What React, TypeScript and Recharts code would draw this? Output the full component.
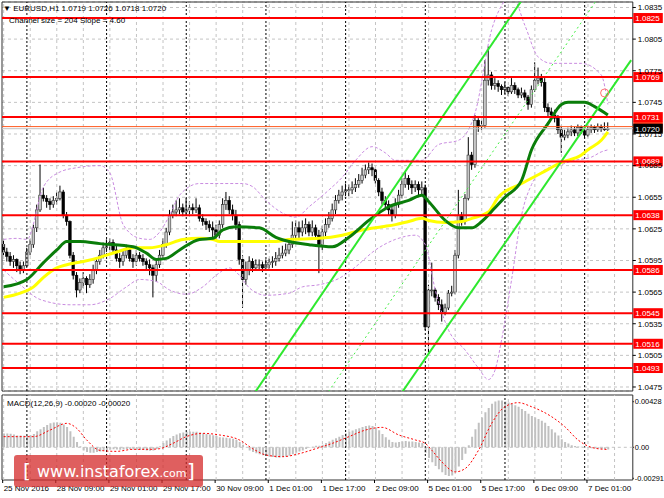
import React from 'react';
import {
  ComposedChart, Bar, Line, XAxis, YAxis, CartesianGrid,
  ReferenceLine, ReferenceArea, ReferenceDot,
} from 'recharts';

const FONT = '"Liberation Sans", Arial, Helvetica, sans-serif';
const SLOTS = 190;

// ---- time axis ----
const timeTickBars = [0, 16, 32, 48, 64, 80, 96, 112, 128, 144, 160, 176];
const timeTickLabels = ['25 Nov 2016', '28 Nov 09:00', '29 Nov 01:00', '29 Nov 17:00', '30 Nov 09:00', '1 Dec 01:00', '1 Dec 17:00', '2 Dec 09:00', '5 Dec 01:00', '5 Dec 17:00', '6 Dec 09:00', '7 Dec 01:00'];
const daySeparatorBars = [7, 31, 55, 79, 103, 127, 151, 175];
const gridBars = [0, 8, 16, 24, 32, 40, 48, 56, 64, 72, 80, 88, 96, 104, 112, 120, 128, 136, 144, 152, 160, 168, 176, 184];

// ---- EURUSD H1 candles (prices in 1/10000) ----
const firstOpen = 10610;
const closes = [
  10603, 10599, 10594, 10596, 10590, 10586, 10590, 10603, 10610, 10626,
  10643, 10657, 10654, 10651, 10648, 10652, 10654, 10660, 10638, 10632,
  10600, 10581, 10567, 10574, 10578, 10572, 10577, 10586, 10594, 10600,
  10607, 10610, 10612, 10605, 10597, 10594, 10600, 10605, 10597, 10594,
  10600, 10597, 10594, 10591, 10588, 10581, 10591, 10600, 10610, 10622,
  10638, 10641, 10643, 10645, 10641, 10643, 10645, 10643, 10645, 10635,
  10632, 10629, 10626, 10624, 10619, 10629, 10648, 10652, 10643, 10638,
  10629, 10596, 10577, 10586, 10594, 10588, 10591, 10591, 10588, 10591,
  10593, 10594, 10597, 10600, 10602, 10605, 10610, 10619, 10626, 10622,
  10626, 10629, 10622, 10626, 10619, 10610, 10622, 10629, 10635, 10643,
  10652, 10657, 10660, 10662, 10662, 10664, 10667, 10671, 10676, 10681,
  10683, 10681, 10671, 10660, 10652, 10648, 10643, 10638, 10648, 10657,
  10667, 10673, 10667, 10664, 10667, 10662, 10664, 10532, 10567, 10567,
  10560, 10553, 10546, 10550, 10564, 10565, 10600, 10638, 10632, 10654,
  10695, 10686, 10728, 10722, 10723, 10766, 10771, 10761, 10763, 10760,
  10757, 10759, 10755, 10761, 10757, 10752, 10754, 10750, 10743, 10757,
  10766, 10768, 10764, 10740, 10736, 10733, 10730, 10719, 10712, 10714,
  10717, 10719, 10716, 10721, 10718, 10714, 10719, 10721, 10719, 10722,
  10720, 10719, 10720,
];
const highs = [
  10615, 10607, 10603, 10600, 10597, 10594, 10594, 10607, 10615, 10629,
  10648, 10686, 10664, 10657, 10654, 10656, 10660, 10666, 10662, 10641,
  10633, 10603, 10584, 10578, 10584, 10580, 10582, 10591, 10597, 10605,
  10612, 10615, 10616, 10615, 10609, 10602, 10605, 10610, 10607, 10601,
  10605, 10603, 10601, 10597, 10596, 10591, 10596, 10605, 10616, 10626,
  10643, 10648, 10652, 10654, 10649, 10654, 10651, 10649, 10654, 10648,
  10639, 10635, 10633, 10632, 10629, 10633, 10654, 10660, 10656, 10648,
  10643, 10632, 10600, 10594, 10599, 10597, 10596, 10596, 10594, 10596,
  10597, 10599, 10603, 10607, 10609, 10611, 10615, 10632, 10633, 10632,
  10633, 10635, 10632, 10633, 10629, 10624, 10628, 10635, 10641, 10649,
  10657, 10662, 10666, 10668, 10667, 10670, 10673, 10677, 10683, 10686,
  10688, 10687, 10683, 10673, 10664, 10656, 10652, 10648, 10654, 10662,
  10673, 10679, 10676, 10671, 10671, 10670, 10670, 10667, 10572, 10593,
  10569, 10563, 10558, 10554, 10567, 10571, 10605, 10662, 10641, 10658,
  10712, 10698, 10733, 10730, 10728, 10785, 10798, 10774, 10768, 10766,
  10762, 10764, 10760, 10768, 10764, 10759, 10759, 10757, 10752, 10761,
  10783, 10778, 10772, 10768, 10744, 10740, 10738, 10733, 10723, 10719,
  10721, 10723, 10722, 10724, 10723, 10723, 10723, 10724, 10723, 10725,
  10724, 10726, 10726,
];
const lows = [
  10600, 10594, 10590, 10588, 10584, 10582, 10583, 10588, 10600, 10607,
  10622, 10641, 10651, 10645, 10643, 10645, 10648, 10652, 10635, 10628,
  10597, 10577, 10560, 10564, 10569, 10564, 10569, 10573, 10582, 10591,
  10597, 10603, 10605, 10601, 10594, 10588, 10590, 10597, 10594, 10588,
  10590, 10594, 10590, 10586, 10581, 10560, 10575, 10588, 10597, 10607,
  10619, 10635, 10637, 10639, 10637, 10638, 10639, 10639, 10640, 10632,
  10628, 10624, 10622, 10615, 10615, 10616, 10626, 10643, 10639, 10633,
  10624, 10591, 10550, 10572, 10581, 10584, 10586, 10586, 10584, 10585,
  10586, 10588, 10590, 10594, 10597, 10599, 10601, 10607, 10615, 10616,
  10618, 10620, 10618, 10618, 10615, 10583, 10605, 10618, 10626, 10632,
  10639, 10649, 10652, 10656, 10656, 10658, 10660, 10664, 10668, 10673,
  10677, 10675, 10668, 10656, 10648, 10643, 10638, 10632, 10635, 10645,
  10654, 10664, 10662, 10658, 10660, 10657, 10658, 10529, 10507, 10561,
  10556, 10548, 10537, 10543, 10548, 10561, 10563, 10597, 10628, 10629,
  10652, 10681, 10683, 10717, 10719, 10721, 10761, 10757, 10757, 10755,
  10752, 10753, 10751, 10753, 10753, 10749, 10749, 10747, 10738, 10740,
  10755, 10762, 10760, 10736, 10732, 10730, 10726, 10715, 10697, 10709,
  10711, 10713, 10713, 10713, 10715, 10711, 10712, 10716, 10716, 10717,
  10717, 10718, 10718,
];

// ---- moving averages (bar index, price in 1/10000) ----
const maGreenBars = [0, 7, 12, 16, 19, 23, 29, 39, 43, 46, 49, 53, 59, 63, 66, 70, 77, 82, 86, 92, 99, 104, 110, 116, 122, 126, 128, 133, 137, 141, 144, 148, 151, 156, 159, 164, 168, 170, 175, 178, 182];
const maGreenVals = [10570, 10577, 10593, 10605, 10613, 10613, 10611, 10608, 10602, 10596, 10597, 10605, 10615, 10616, 10624, 10627, 10626, 10617, 10613, 10610, 10608, 10617, 10633, 10646, 10652, 10657, 10651, 10633, 10626, 10626, 10632, 10645, 10655, 10671, 10700, 10725, 10743, 10745, 10745, 10741, 10733];
const maYellowBars = [0, 5, 9, 12, 16, 19, 24, 29, 34, 39, 44, 49, 54, 59, 63, 65, 70, 82, 86, 95, 102, 108, 114, 118, 122, 126, 128, 133, 138, 141, 146, 149, 156, 162, 168, 174, 176, 180, 182];
const maYellowVals = [10560, 10564, 10570, 10579, 10588, 10591, 10594, 10598, 10603, 10607, 10607, 10610, 10615, 10616, 10615, 10613, 10613, 10613, 10615, 10616, 10619, 10624, 10627, 10629, 10632, 10635, 10633, 10631, 10632, 10635, 10641, 10655, 10668, 10678, 10688, 10695, 10700, 10709, 10717];

// ---- envelope bands ----
const bandUpBars = [0, 4, 7, 12, 17, 22, 29, 32, 36, 41, 44, 47, 50, 53, 59, 72, 75, 79, 84, 88, 92, 98, 102, 106, 111, 115, 118, 126, 131, 137, 142, 147, 150, 153, 157, 161, 165, 174, 180, 182];
const bandUpVals = [10615, 10616, 10615, 10665, 10679, 10683, 10685, 10678, 10629, 10616, 10615, 10622, 10638, 10657, 10668, 10668, 10665, 10652, 10640, 10636, 10646, 10662, 10674, 10690, 10703, 10697, 10690, 10690, 10705, 10709, 10735, 10814, 10837, 10847, 10818, 10788, 10782, 10782, 10771, 10743];
const bandLoBars = [0, 5, 11, 20, 26, 32, 37, 41, 46, 50, 55, 60, 64, 68, 71, 74, 79, 86, 90, 95, 101, 106, 112, 118, 124, 127, 130, 134, 139, 143, 146, 148, 150, 153, 156, 159, 163, 168, 172, 177, 180, 182];
const bandLoVals = [10586, 10572, 10558, 10553, 10553, 10559, 10570, 10577, 10575, 10567, 10563, 10570, 10581, 10588, 10581, 10569, 10562, 10564, 10570, 10572, 10578, 10589, 10605, 10615, 10619, 10610, 10567, 10529, 10510, 10493, 10482, 10491, 10520, 10577, 10638, 10667, 10681, 10686, 10690, 10693, 10698, 10700];

// ---- regression channel (bar index, price) ----
const channelUpperBars = [70, 160];
const channelUpperVals = [1.04435, 1.08601];
const channelLowerBars = [119, 189];
const channelLowerVals = [1.04655, 1.0785];
const channelMidBars = [97, 181];
const channelMidVals = [1.04668, 1.0853];
const channelMarkBar = 181;
const channelMarkVal = 1.07539;

// ---- levels & axis ticks ----
const levels = [1.0825, 1.0769, 1.0731, 1.0689, 1.0638, 1.0586, 1.0545, 1.0516, 1.0493];
const askLevel = 1.0722;
const bidLevel = 1.072;
const priceTicks = [1.0475, 1.0505, 1.0535, 1.0565, 1.0595, 1.0625, 1.0655, 1.0685, 1.0715, 1.0745, 1.0775, 1.0805, 1.0835];
const priceDomain = [1.04712, 1.08402];

// ---- MACD(12,26,9) (values in 1/100000) ----
const macdHist = [
  130, 130, 128, 120, 110, 110, 108, 110, 112, 125,
  150, 170, 190, 210, 225, 232, 235, 230, 215, 190,
  150, 100, 50, 10, -30, -45, -50, -50, -45, -40,
  -30, -25, -20, -18, -20, -22, -20, -15, -18, -20,
  -22, -25, -25, -30, -32, -30, -15, 10, 40, 65,
  85, 105, 120, 132, 140, 145, 148, 146, 145, 140,
  132, 125, 120, 112, 105, 95, 92, 90, 85, 80,
  70, 50, 25, 0, -30, -45, -55, -65, -75, -82,
  -88, -92, -95, -95, -92, -88, -80, -65, -50, -40,
  -30, -15, -5, 5, 15, 15, 25, 40, 55, 70,
  85, 100, 115, 130, 145, 158, 170, 180, 190, 200,
  205, 200, 185, 160, 125, 95, 70, 50, 45, 50,
  55, 60, 55, 55, 50, 45, 40, -50, -100, -140,
  -175, -205, -235, -260, -270, -265, -230, -180, -120, -60,
  20, 100, 170, 230, 280, 330, 370, 410, 430, 440,
  440, 430, 420, 410, 395, 380, 360, 340, 315, 295,
  280, 265, 250, 230, 200, 170, 140, 110, 75, 50,
  35, 20, 12, 8, 5, 0, -5, -8, -10, -12,
  -15, -18, -20,
];
const signalBars = [0, 9, 14, 19, 22, 25, 29, 34, 39, 44, 47, 51, 55, 60, 65, 71, 75, 79, 84, 89, 94, 99, 104, 109, 114, 119, 124, 127, 129, 132, 136, 139, 143, 147, 151, 155, 159, 165, 169, 173, 177, 181, 182];
const signalVals = [100, 100, 162, 225, 178, 69, -29, -38, -19, -19, -13, 37, 100, 131, 116, 69, -13, -72, -88, -60, -13, 37, 100, 162, 187, 116, 69, 37, -29, -138, -231, -200, -29, 225, 381, 419, 381, 288, 194, 69, 0, -19, -20];
const macdTicks = [0.00428, 0, -0.00291];
const macdDomain = [-0.00307, 0.00491];

// ---- build table ----
const rows: any[] = Array.from({ length: SLOTS }, (_, i) => ({ i }));
closes.forEach((c, i) => {
  const o = i === 0 ? firstOpen : closes[i - 1];
  rows[i].o = o / 1e4;
  rows[i].c = c / 1e4;
  rows[i].h = highs[i] / 1e4;
  rows[i].l = lows[i] / 1e4;
  rows[i].range = [lows[i] / 1e4, highs[i] / 1e4];
  rows[i].macd = macdHist[i] / 1e5;
});
const put = (bars: number[], vals: number[], key: string, div: number) =>
  bars.forEach((b, k) => { rows[b][key] = vals[k] / div; });
put(maGreenBars, maGreenVals, 'maG', 1e4);
put(maYellowBars, maYellowVals, 'maY', 1e4);
put(bandUpBars, bandUpVals, 'bbU', 1e4);
put(bandLoBars, bandLoVals, 'bbL', 1e4);
put(channelUpperBars, channelUpperVals, 'chA', 1);
put(channelLowerBars, channelLowerVals, 'chB', 1);
put(channelMidBars, channelMidVals, 'chM', 1);
put(signalBars, signalVals, 'sig', 1e5);

const Candle = (props: any) => {
  const { x, y, width, height, payload } = props;
  if (!payload || payload.o == null || x == null) return null;
  const top = Math.min(y, y + height);
  const H = Math.abs(height);
  const span = payload.h - payload.l;
  const k = span > 0 ? H / span : 0;
  const yO = top + (payload.h - payload.o) * k;
  const yC = top + (payload.h - payload.c) * k;
  const cx = x + width / 2;
  const up = payload.c >= payload.o;
  const bt = Math.min(yO, yC);
  const bh = Math.max(Math.abs(yC - yO), 0.9);
  return (
    <g>
      <line x1={cx} x2={cx} y1={top} y2={top + H} stroke="#000" strokeWidth={1} />
      <rect x={cx - 1.3} y={bt} width={2.6} height={bh}
        fill={up ? '#c8c8c8' : '#000'} stroke={up ? '#333' : '#000'} strokeWidth={0.6} />
    </g>
  );
};

const LevelLabel = (props: any) => {
  const { viewBox, text, bg, color } = props;
  if (!viewBox) return null;
  const lx = viewBox.x + viewBox.width + 0.5;
  const y = viewBox.y;
  return (
    <g>
      <rect x={lx} y={y - 5} width={29.5} height={10} fill={bg} />
      <text x={lx + 2} y={y} dy="0.35em" fontSize={8} fontFamily={FONT} fill={color}>{text}</text>
    </g>
  );
};

const XTick = (props: any) => {
  const { x, y, payload } = props;
  const idx = timeTickBars.indexOf(payload.value);
  return (
    <g>
      <line x1={x - 1} x2={x - 1} y1={y} y2={y + 3} stroke="#000" />
      <text x={x} y={y + 11} fontSize={8} fontFamily={FONT} fill="#000" textAnchor="start">{idx >= 0 ? timeTickLabels[idx] : ''}</text>
    </g>
  );
};

const verticalGuides = () => [
  ...gridBars.map((b) => (
    <ReferenceLine key={'g' + b} x={b} stroke="#c4c4c4" strokeDasharray="3 3" strokeWidth={1} />
  )),
  ...daySeparatorBars.map((b) => (
    <ReferenceLine key={'d' + b} x={b} stroke="#000" strokeDasharray="2 2" strokeWidth={1} />
  )),
];

export default function App() {
  return (
    <div style={{ position: 'absolute', left: 0, top: 0, width: 664, height: 498, background: '#fff', overflow: 'hidden' }}>
      <div style={{ position: 'absolute', left: 0, top: 0 }}>
        <ComposedChart width={664} height={393} data={rows} margin={{ top: 2, right: 0, bottom: 2, left: 2 }}>
          <XAxis dataKey="i" type="category" hide />
          <YAxis orientation="right" width={31.2} domain={priceDomain} allowDataOverflow ticks={priceTicks} interval={0}
            tick={{ fontSize: 8, fill: '#000', fontFamily: FONT }} tickSize={3} tickMargin={2}
            axisLine={false} tickLine={{ stroke: '#000' }} tickFormatter={(v: number) => v.toFixed(4)} />
          <CartesianGrid vertical={false} stroke="#c4c4c4" strokeDasharray="3 3" />
          {verticalGuides()}
          <Bar dataKey="range" shape={Candle} barSize={3} isAnimationActive={false} />
          <Line dataKey="bbU" type="monotone" stroke="#c98ce0" strokeWidth={1} strokeDasharray="3 2" dot={false} connectNulls isAnimationActive={false} />
          <Line dataKey="bbL" type="monotone" stroke="#c98ce0" strokeWidth={1} strokeDasharray="3 2" dot={false} connectNulls isAnimationActive={false} />
          <Line dataKey="maY" type="monotone" stroke="#ffff00" strokeWidth={3} dot={false} connectNulls isAnimationActive={false} />
          <Line dataKey="maG" type="monotone" stroke="#0a7d0a" strokeWidth={3} dot={false} connectNulls isAnimationActive={false} />
          <Line dataKey="chA" type="linear" stroke="#2ee82e" strokeWidth={2} dot={false} connectNulls isAnimationActive={false} />
          <Line dataKey="chB" type="linear" stroke="#2ee82e" strokeWidth={2} dot={false} connectNulls isAnimationActive={false} />
          <Line dataKey="chM" type="linear" stroke="#44ee44" strokeWidth={1} strokeDasharray="2 3" dot={false} connectNulls isAnimationActive={false} />
          <ReferenceDot x={channelMarkBar} y={channelMarkVal} r={4} fill="none" stroke="#ff7070" strokeWidth={1} />
          <ReferenceLine y={bidLevel} stroke="#c0c0c0" strokeWidth={1} />
          <ReferenceLine y={askLevel} stroke="#ff5a1f" strokeWidth={1}
            label={<LevelLabel text={askLevel.toFixed(4)} bg="#ff3b1f" color="#fff" />} />
          {levels.map((lv) => (
            <ReferenceLine key={'lv' + lv} y={lv} stroke="#ff0000" strokeWidth={2}
              label={<LevelLabel text={lv.toFixed(4)} bg="#ff0000" color="#fff" />} />
          ))}
          <ReferenceLine y={bidLevel} stroke="none"
            label={<LevelLabel text={bidLevel.toFixed(4)} bg="#000" color="#fff" />} />
          <ReferenceArea y1={priceDomain[0]} y2={priceDomain[1]} fill="none" stroke="#303030" strokeWidth={1} />
        </ComposedChart>
      </div>
      <div style={{ position: 'absolute', left: 0, top: 393 }}>
        <ComposedChart width={664} height={105} data={rows} margin={{ top: 2, right: 0, bottom: 0, left: 2 }}>
          <XAxis dataKey="i" type="category" ticks={timeTickBars} interval={0} height={18}
            tick={<XTick />} tickLine={false} axisLine={false} tickSize={0} tickMargin={0} />
          <YAxis orientation="right" width={31.2} domain={macdDomain} allowDataOverflow ticks={macdTicks} interval={0}
            tick={{ fontSize: 7.4, fill: '#000', fontFamily: FONT }} tickSize={1} tickMargin={1}
            axisLine={false} tickLine={{ stroke: '#000' }}
            tickFormatter={(v: number) => (v === 0 ? '0.00' : v.toFixed(5))} />
          {verticalGuides()}
          <ReferenceLine y={0} stroke="#c4c4c4" strokeDasharray="3 3" />
          <Bar dataKey="macd" fill="#c0c0c0" barSize={2} isAnimationActive={false} />
          <Line dataKey="sig" type="monotone" stroke="#ff0000" strokeWidth={1} strokeDasharray="2 2" dot={false} connectNulls isAnimationActive={false} />
          <ReferenceArea y1={macdDomain[0]} y2={macdDomain[1]} fill="none" stroke="#303030" strokeWidth={1} />
        </ComposedChart>
      </div>
      <svg width={664} height={498} style={{ position: 'absolute', left: 0, top: 0, pointerEvents: 'none' }}>
        <text x={3} y={11} fontSize={8} fontFamily={FONT} fill="#000">{'\u25BC EURUSD,H1  1.0719 1.0726 1.0718 1.0720'}</text>
        <text x={9} y={23} fontSize={8} fontFamily={FONT} fill="#000">Channel size = 204  Slope = 4.60</text>
        <text x={7} y={406} fontSize={8} fontFamily={FONT} fill="#000">MACD(12,26,9) -0.00020 -0.00020</text>
        <rect x={14} y={455} width={189} height={32} rx={3} fill="#d42a2a" fillOpacity={0.75} />
        <text x={23} y={478} fontSize={20} fontFamily='"DejaVu Sans", sans-serif' fill="#fff">[</text>
        <text x={37} y={477} fontSize={16} fontFamily='"DejaVu Sans", sans-serif' fill="#fff">www.instaforex<tspan fontSize={11}>.com</tspan></text>
        <text x={187} y={478} fontSize={20} fontFamily='"DejaVu Sans", sans-serif' fill="#fff">]</text>
      </svg>
    </div>
  );
}
